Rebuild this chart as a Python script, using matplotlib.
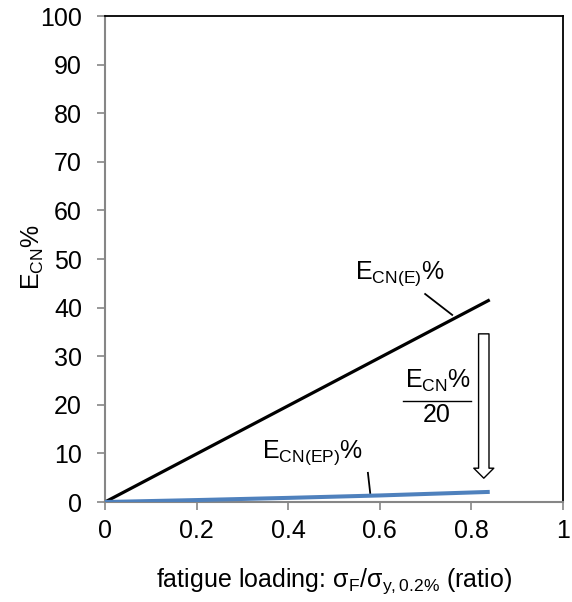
import matplotlib
matplotlib.use('Agg')
import matplotlib.pyplot as plt

plt.rcParams['font.family'] = ['Liberation Sans', 'DejaVu Sans']
plt.rcParams['mathtext.fontset'] = 'custom'
plt.rcParams['mathtext.rm'] = 'Liberation Sans'
plt.rcParams['mathtext.it'] = 'Liberation Sans:italic'
plt.rcParams['mathtext.bf'] = 'Liberation Sans:bold'

# data
load_e = [0.0, 0.84]
ecn_e = [0.0, 41.6]
load_ep = [0.0, 0.2, 0.4, 0.6, 0.84]
ecn_ep = [0.0, 0.4, 0.85, 1.35, 2.08]
xticks = [0, 0.2, 0.4, 0.6, 0.8, 1]
xticklabels = ['0', '0.2', '0.4', '0.6', '0.8', '1']
yticks = [0, 10, 20, 30, 40, 50, 60, 70, 80, 90, 100]

gray = '#868686'
fs = 18
fig = plt.figure(figsize=(5.72, 6.02), dpi=100)
ax = fig.add_axes([0.1836, 0.1661, 0.8007, 0.8073])

ax.plot(load_e, ecn_e, color='black', lw=2.3, solid_capstyle='butt', zorder=3)
ax.plot(load_ep, ecn_ep, color='#4f81bd', lw=2.9, solid_capstyle='butt', zorder=3)

ax.set_xlim(0, 1)
ax.set_ylim(0, 100)
ax.set_xticks(xticks)
ax.set_xticklabels(xticklabels)
ax.set_yticks(yticks)
ax.tick_params(axis='both', direction='out', length=5.5, width=1.2, color=gray,
               labelsize=fs)
ax.tick_params(axis='y', pad=11)
ax.tick_params(axis='x', pad=7)
ax.spines['left'].set_color(gray)
ax.spines['bottom'].set_color(gray)
ax.spines['left'].set_linewidth(1.5)
ax.spines['bottom'].set_linewidth(1.5)
ax.spines['top'].set_color('black')
ax.spines['right'].set_color('black')
ax.spines['top'].set_linewidth(1.3)
ax.spines['right'].set_linewidth(1.3)

ax.set_ylabel(r'$\mathrm{E_{CN}}$%', fontsize=fs)
ax.yaxis.set_label_coords(-0.128, 0.505)
ax.set_xlabel(r'fatigue loading: $\mathrm{σ_F/σ_{y,0.2\%}}$ (ratio)', fontsize=fs)
ax.xaxis.set_label_coords(0.5, -0.133)

# labels and leaders
ax.text(0.546, 45.9, r'$\mathrm{E_{CN(E)}}$%', fontsize=fs, ha='left', va='baseline')
ax.plot([0.699, 0.758], [42.8, 38.5], color='black', lw=1.3)

ax.text(0.343, 9.0, r'$\mathrm{E_{CN(EP)}}$%', fontsize=fs, ha='left', va='baseline')
ax.plot([0.574, 0.579], [6.0, 1.85], color='black', lw=1.3)

ax.text(0.655, 23.5, r'$\mathrm{E_{CN}}$%', fontsize=fs, ha='left', va='baseline')
ax.plot([0.651, 0.799], [20.8, 20.8], color='black', lw=1.0)
ax.text(0.725, 16.5, '20', fontsize=fs, ha='center', va='baseline')

ax.annotate('', xy=(0.827, 4.9), xytext=(0.827, 34.6),
            arrowprops=dict(arrowstyle='simple,head_length=0.72,head_width=1.44,tail_width=0.75',
                            mutation_scale=10, fc='white', ec='black', lw=1.0,
                            shrinkA=0, shrinkB=0))

fig.savefig('out.png', dpi=100)
